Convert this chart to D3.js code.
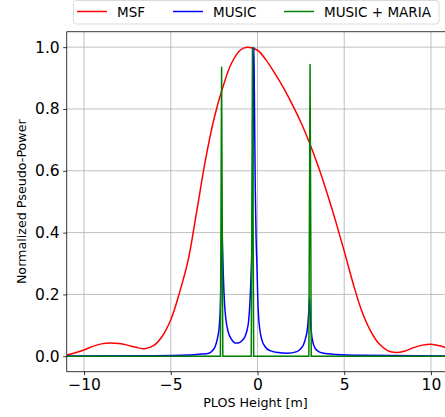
<!DOCTYPE html>
<html>
<head>
<meta charset="utf-8">
<script src="https://cdn.jsdelivr.net/npm/d3@7"></script>
<style>
  html, body { margin: 0; padding: 0; background: #fff; overflow: hidden; }
  svg { display: block; font-family: "DejaVu Sans", sans-serif; }
</style>
</head>
<body>
<svg id="chart" width="445" height="417"></svg>
<script>
// MSF spectrum (red)
var msfX = [-11, -10.5, -10, -9.5, -9, -8.5, -8, -7.5, -7, -6.5, -6, -5.5, -5, -4.5, -4, -3.5, -3, -2.5, -2, -1.5, -1, -0.6, 0, 0.5, 1, 1.5, 2, 2.5, 3, 3.5, 4, 4.5, 5, 5.5, 6, 6.5, 7, 7.5, 8, 8.5, 9, 9.5, 10, 10.5, 11];
var msfY = [0.004, 0.011, 0.02, 0.032, 0.04, 0.043, 0.041, 0.036, 0.029, 0.024, 0.034, 0.064, 0.118, 0.205, 0.31, 0.47, 0.635, 0.77, 0.87, 0.948, 0.99, 1.0, 0.99, 0.958, 0.915, 0.868, 0.815, 0.757, 0.69, 0.615, 0.53, 0.438, 0.34, 0.238, 0.148, 0.084, 0.041, 0.018, 0.012, 0.017, 0.028, 0.036, 0.039, 0.034, 0.025];

// MUSIC spectrum (blue)
var musicX = [-11, -6, -4, -3.5, -3.2, -2.8, -2.6, -2.45, -2.3, -2.2, -2.13, -2.08, -2.05, -2.02, -1.97, -1.9, -1.82, -1.67, -1.5, -1.28, -1.1, -0.9, -0.71, -0.6, -0.52, -0.45, -0.38, -0.32, -0.27, -0.23, -0.21, -0.18, -0.13, -0.08, -0.03, 0.02, 0.06, 0.15, 0.25, 0.45, 0.73, 1.2, 1.7, 2.27, 2.5, 2.65, 2.78, 2.88, 2.95, 3.0, 3.05, 3.13, 3.22, 3.32, 3.5, 3.8, 4.5, 6, 11];
var musicY = [0.001, 0.002, 0.004, 0.006, 0.007, 0.01, 0.018, 0.03, 0.06, 0.1, 0.18, 0.32, 0.43, 0.36, 0.26, 0.17, 0.118, 0.075, 0.055, 0.043, 0.043, 0.05, 0.065, 0.085, 0.11, 0.16, 0.25, 0.36, 0.6, 0.9, 1.0, 0.85, 0.55, 0.38, 0.29, 0.18, 0.13, 0.08, 0.053, 0.03, 0.018, 0.012, 0.01, 0.015, 0.025, 0.037, 0.06, 0.09, 0.14, 0.19, 0.12, 0.065, 0.04, 0.026, 0.016, 0.01, 0.006, 0.003, 0.001];

// MUSIC + MARIA spectrum (green)
var mariaX = [-11, -2.14, -2.07, -2.0, -0.36, -0.29, -0.22, 2.96, 3.03, 3.10, 11];
var mariaY = [0, 0, 0.935, 0, 0, 0.998, 0, 0, 0.944, 0, 0];

var xTicks = [-10, -5, 0, 5, 10];
var yTicks = [0, 0.2, 0.4, 0.6, 0.8, 1.0];
var seriesNames = ["MSF", "MUSIC", "MUSIC + MARIA"];
var seriesColors = ["#ff0000", "#0000ff", "#008000"];

var plotLeft = 66.7, plotRight = 448.3, plotTop = 31.7, plotBottom = 371.7;

var svg = d3.select("#chart");
var x = d3.scaleLinear().domain([-11, 11]).range([plotLeft, plotRight]);
var y = d3.scaleLinear().domain([-0.05, 1.05]).range([plotBottom, plotTop]);

// grid
var grid = svg.append("g");
grid.selectAll("line.gx").data(xTicks).enter().append("line")
    .attr("x1", function (d) { return x(d); }).attr("x2", function (d) { return x(d); })
    .attr("y1", plotTop).attr("y2", plotBottom)
    .attr("stroke", "#b0b0b0").attr("stroke-width", 0.8);
grid.selectAll("line.gy").data(yTicks).enter().append("line")
    .attr("x1", plotLeft).attr("x2", plotRight)
    .attr("y1", function (d) { return y(d); }).attr("y2", function (d) { return y(d); })
    .attr("stroke", "#b0b0b0").attr("stroke-width", 0.8);

svg.append("clipPath").attr("id", "plotClip").append("rect")
    .attr("x", plotLeft).attr("y", plotTop)
    .attr("width", plotRight - plotLeft).attr("height", plotBottom - plotTop);

var plot = svg.append("g").attr("clip-path", "url(#plotClip)");

function drawLine(xs, ys, color, curve) {
    var pts = xs.map(function (d, i) { return [d, ys[i]]; });
    var line = d3.line().x(function (d) { return x(d[0]); }).y(function (d) { return y(d[1]); }).curve(curve);
    plot.append("path").datum(pts).attr("d", line)
        .attr("fill", "none").attr("stroke", color).attr("stroke-width", 1.5)
        .attr("stroke-linejoin", "round");
}

drawLine(msfX, msfY, seriesColors[0], d3.curveCatmullRom);
drawLine(musicX, musicY, seriesColors[1], d3.curveMonotoneX);
drawLine(mariaX, mariaY, seriesColors[2], d3.curveLinear);

// axes
var xAxis = d3.axisBottom(x).tickValues(xTicks).tickSize(3.5).tickPadding(3.5)
    .tickFormat(function (d) { return d < 0 ? "\u2212" + Math.abs(d) : d; });
var yAxis = d3.axisLeft(y).tickValues(yTicks).tickSize(3.5).tickPadding(3.5)
    .tickFormat(d3.format(".1f"));

var gx = svg.append("g").attr("transform", "translate(0," + plotBottom + ")").call(xAxis);
var gy = svg.append("g").attr("transform", "translate(" + plotLeft + ",0)").call(yAxis);
[gx, gy].forEach(function (g) {
    g.select(".domain").remove();
    g.selectAll(".tick line").attr("stroke", "#000").attr("stroke-width", 0.8);
    g.selectAll(".tick text").attr("fill", "#000").style("font-size", "15.5px")
        .style("font-family", "DejaVu Sans, sans-serif");
});

// spines
function spine(x1, y1, x2, y2) {
    svg.append("line").attr("x1", x1).attr("x2", x2).attr("y1", y1).attr("y2", y2)
        .attr("stroke", "#000").attr("stroke-width", 0.8);
}
spine(plotLeft, plotTop, plotLeft, plotBottom);
spine(plotLeft, plotBottom, plotRight, plotBottom);
spine(plotLeft, plotTop, plotRight, plotTop);
spine(plotRight, plotTop, plotRight, plotBottom);

// axis labels
svg.append("text").attr("x", (plotLeft + plotRight) / 2 - 2).attr("y", 407)
    .attr("text-anchor", "middle").style("font-size", "12.7px").text("PLOS Height [m]");
svg.append("text").attr("transform", "translate(25.5," + ((plotTop + plotBottom) / 2) + ") rotate(-90)")
    .attr("text-anchor", "middle").style("font-size", "12.7px").text("Normalized Pseudo-Power");

// legend
var legend = svg.append("g");
legend.append("rect").attr("x", 73.5).attr("y", 0.5).attr("width", 365.5).attr("height", 23.5)
    .attr("rx", 3).attr("fill", "#fff").attr("fill-opacity", 0.8)
    .attr("stroke", "#d0d0d0").attr("stroke-width", 0.8);
var legendX = [77, 173, 284];
seriesNames.forEach(function (name, i) {
    legend.append("line").attr("x1", legendX[i]).attr("x2", legendX[i] + 30)
        .attr("y1", 11.5).attr("y2", 11.5)
        .attr("stroke", seriesColors[i]).attr("stroke-width", 1.5);
    legend.append("text").attr("x", legendX[i] + 40).attr("y", 16.5)
        .style("font-size", "13.5px").text(name);
});
</script>
</body>
</html>
